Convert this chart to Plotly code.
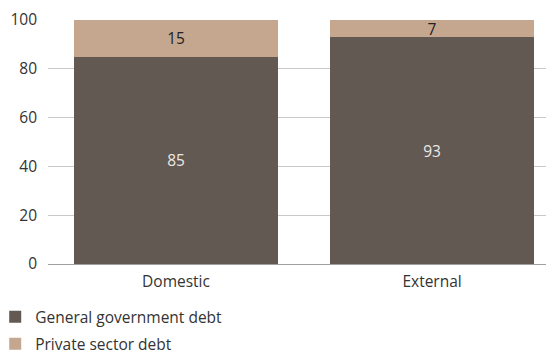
import plotly.graph_objects as go

categories = ["Domestic", "External"]
government_debt = [85, 93]
private_debt = [15, 7]
y_ticks = [0, 20, 40, 60, 80, 100]

FONT = "Open Sans"
SIZE = 15.5

fig = go.Figure()
fig.add_trace(go.Bar(
    x=categories, y=government_debt, name="General government debt",
    legendgroup="gov",
    marker=dict(color="#625953", line=dict(width=0)),
    text=government_debt, texttemplate="%{text}",
    textposition="inside", insidetextanchor="middle", textangle=0,
    constraintext="none",
    textfont=dict(color="#ece8e4", size=SIZE, family=FONT),
))
fig.add_trace(go.Bar(
    x=categories, y=private_debt, name="Private sector debt",
    legendgroup="priv",
    marker=dict(color="#c5a78f", line=dict(width=0)),
    text=private_debt, texttemplate="%{text}",
    textposition="inside", insidetextanchor="middle", textangle=0,
    constraintext="none",
    textfont=dict(color="#222222", size=SIZE, family=FONT),
))

fig.update_layout(
    width=546, height=354,
    margin=dict(l=48, r=0, t=20, b=90, autoexpand=False),
    barmode="stack", bargap=0.2,
    plot_bgcolor="white", paper_bgcolor="white",
    font=dict(family=FONT, size=SIZE, color="#333333"),
    uniformtext=dict(mode="show", minsize=SIZE),
    showlegend=True,
    legend=dict(
        orientation="v", x=-0.106, xanchor="left", y=-0.148, yanchor="top",
        font=dict(size=SIZE, color="#333333"), itemwidth=30,
        traceorder="grouped", tracegroupgap=4, bgcolor="rgba(0,0,0,0)",
    ),
    xaxis=dict(
        range=[-0.5, 1.445], showgrid=False, showline=False,
        ticks="", ticklabelstandoff=6,
        tickfont=dict(size=SIZE, color="#333333"),
    ),
    yaxis=dict(
        range=[0, 100], tickvals=y_ticks, showgrid=True,
        gridcolor="#c8c8c8", gridwidth=1, zeroline=True,
        zerolinecolor="#a0a0a0", zerolinewidth=1,
        showline=False, ticks="", ticklabelstandoff=10,
        tickfont=dict(size=SIZE, color="#333333"),
    ),
)

fig.write_html("out.html")
